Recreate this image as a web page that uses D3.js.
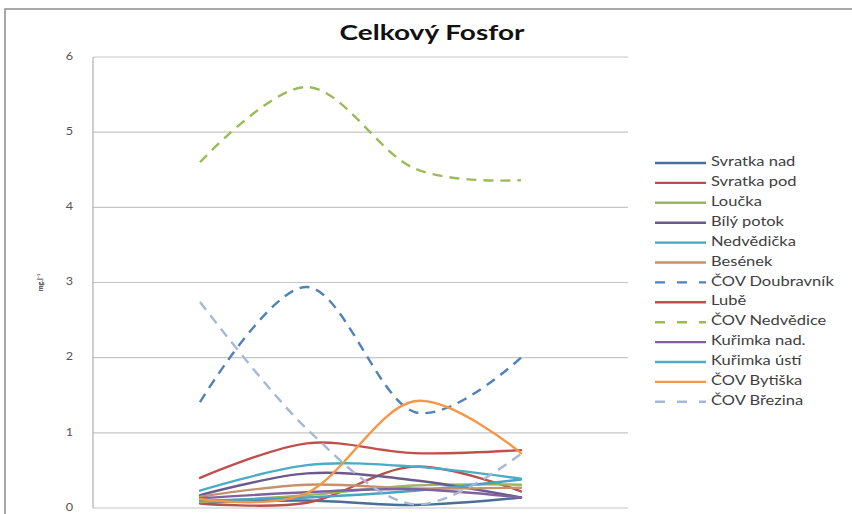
<!DOCTYPE html>
<html>
<head>
<meta charset="utf-8">
<script src="https://cdn.jsdelivr.net/npm/d3@7"></script>
<style>
  html, body { margin: 0; padding: 0; background: #fff; }
  svg { display: block; }
  text { font-family: Lato, "Open Sans", sans-serif; }
</style>
</head>
<body>
<svg id="chart" width="852" height="514"></svg>
<script>
// Sampling occasions (x categories) and y-axis ticks
const categories = ["1. odběr", "2. odběr", "3. odběr", "4. odběr"];
const yTicks = [0, 1, 2, 3, 4, 5, 6];

// Total phosphorus per site, mg/l
const svratkaNad   = [0.07, 0.10, 0.04, 0.14];
const svratkaPod   = [0.06, 0.07, 0.55, 0.22];
const loucka       = [0.08, 0.17, 0.30, 0.31];
const bilyPotok    = [0.17, 0.46, 0.37, 0.14];
const nedvedicka   = [0.10, 0.14, 0.23, 0.38];
const besenek      = [0.15, 0.31, 0.26, 0.27];
const covDoubravnik = [1.41, 2.94, 1.28, 2.00];
const lube         = [0.40, 0.86, 0.73, 0.77];
const covNedvedice = [4.60, 5.60, 4.52, 4.36];
const kurimkaNad   = [0.13, 0.21, 0.25, 0.14];
const kurimkaUsti  = [0.23, 0.57, 0.55, 0.39];
const covBytiska   = [0.12, 0.20, 1.42, 0.73];
const covBrezina   = [2.74, 1.05, 0.05, 0.72];

const seriesNames = ["Svratka nad", "Svratka pod", "Loučka", "Bílý potok", "Nedvědička",
  "Besének", "ČOV Doubravník", "Lubě", "ČOV Nedvědice", "Kuřimka nad.", "Kuřimka ústí",
  "ČOV Bytiška", "ČOV Březina"];
const seriesValues = [svratkaNad, svratkaPod, loucka, bilyPotok, nedvedicka, besenek,
  covDoubravnik, lube, covNedvedice, kurimkaNad, kurimkaUsti, covBytiska, covBrezina];
const seriesColors = ["#4a6f99", "#b5514e", "#9bb563", "#6b5a8e", "#4aa3c0", "#c39370",
  "#4f81bd", "#c0504d", "#9bbb59", "#7e62a0", "#4bacc6", "#f79646", "#a9b7d6"];
const seriesDashed = [false, false, false, false, false, false,
  true, false, true, false, false, false, true];

const series = seriesNames.map((name, i) => ({
  name, values: seriesValues[i], color: seriesColors[i], dashed: seriesDashed[i]
}));

const svg = d3.select("#chart");

// helper: horizontally widened text
function wideText(parent, x, y, str, opts) {
  const g = parent.append("g").attr("transform", `translate(${x},${y}) scale(${opts.sx},1)`);
  return g.append("text")
    .attr("x", 0).attr("y", 0)
    .attr("text-anchor", opts.anchor || "start")
    .attr("dominant-baseline", opts.baseline || "auto")
    .attr("font-size", opts.size)
    .attr("font-weight", opts.weight || "normal")
    .attr("fill", opts.fill || "#404040")
    .text(str);
}

// outer chart frame
svg.append("rect")
  .attr("x", 5).attr("y", 9).attr("width", 860).attr("height", 520)
  .attr("fill", "none").attr("stroke", "#8c8c8c").attr("stroke-width", 1.5);

const plot = { left: 93, right: 628, top: 57, bottom: 508 };

const x = d3.scalePoint().domain(categories).range([plot.left, plot.right]).padding(1);
const y = d3.scaleLinear().domain([0, 6]).range([plot.bottom, plot.top]);

// horizontal gridlines
svg.append("g").selectAll("line").data(yTicks).join("line")
  .attr("x1", plot.left).attr("x2", plot.right)
  .attr("y1", d => y(d)).attr("y2", d => y(d))
  .attr("stroke", "#c6c6c6").attr("stroke-width", 1.2);

// vertical axis line
svg.append("line")
  .attr("x1", plot.left).attr("x2", plot.left)
  .attr("y1", plot.top).attr("y2", plot.bottom)
  .attr("stroke", "#b0b0b0").attr("stroke-width", 1.2);

// y tick labels
const yAxisG = svg.append("g");
yTicks.forEach(t => {
  wideText(yAxisG, 73, y(t), String(t), { size: 11, anchor: "end", baseline: "middle", fill: "#555", sx: 1.15 });
});

// y-axis title
svg.append("text")
  .attr("transform", `translate(43,${y(3)}) rotate(-90)`)
  .attr("text-anchor", "middle")
  .attr("font-size", 7).attr("font-weight", "bold").attr("fill", "#444")
  .text("mg.l⁻¹");

// title
wideText(svg, 432, 40, "Celkový Fosfor", { size: 20, weight: "bold", anchor: "middle", fill: "#111", sx: 1.4 });

// series lines
const line = d3.line()
  .x((d, i) => x(categories[i]))
  .y(d => y(d))
  .curve(d3.curveCatmullRom.alpha(0));

svg.append("g").selectAll("path").data(series).join("path")
  .attr("d", d => line(d.values))
  .attr("fill", "none")
  .attr("stroke", d => d.color)
  .attr("stroke-width", 2.4)
  .attr("stroke-linecap", d => d.dashed ? "butt" : "round")
  .attr("stroke-dasharray", d => d.dashed ? "10,7" : null);

// legend
const legend = svg.append("g");
const legTop = 163, legStep = 19.9;
series.forEach((s, i) => {
  const ly = legTop + i * legStep;
  legend.append("line")
    .attr("x1", 655).attr("x2", 706).attr("y1", ly).attr("y2", ly)
    .attr("stroke", s.color).attr("stroke-width", 2.4)
    .attr("stroke-dasharray", s.dashed ? "10,12" : null);
  wideText(legend, 711, ly, s.name, { size: 12.5, baseline: "middle", fill: "#404040", sx: 1.32 });
});
</script>
</body>
</html>
